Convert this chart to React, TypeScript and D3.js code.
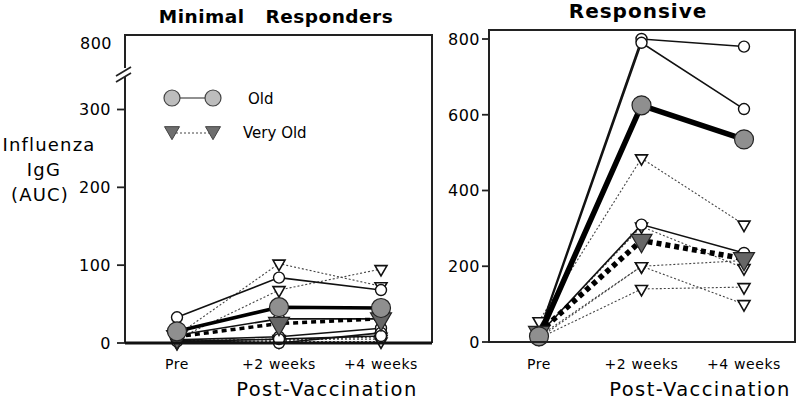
import React from "react";
import * as d3 from "d3";

const categories = ["Pre", "+2 weeks", "+4 weeks"];

// Minimal responders
const minimalOld = [
  [33, 84, 68],
  [10, 31, 31],
  [4, 8, 19],
  [3, 0, 13],
  [2, 5, 9],
];
const minimalOldMean = [15, 46, 45];
const minimalVeryOld = [
  [10, 102, 73],
  [5, 68, 95],
  [3, 5, 5],
  [1, 3, 8],
  [0, 2, 2],
];
const minimalVeryOldMean = [8, 25, 31];

// Responsive
const respOld = [
  [25, 800, 780],
  [20, 790, 615],
  [20, 310, 235],
];
const respOldMean = [15, 625, 535];
const respVeryOld = [
  [55, 485, 310],
  [20, 305, 195],
  [15, 200, 215],
  [10, 200, 100],
  [10, 140, 145],
];
const respVeryOldMean = [25, 268, 220];

const leftTicks = [0, 100, 200, 300, 800];
const rightTicks = [0, 200, 400, 600, 800];

const FONT = "DejaVu Sans, Verdana, sans-serif";

type Sc = (v: number) => number;

function tri(cx: number, cy: number, w: number) {
  const h = w * 0.87;
  return `M${cx - w / 2},${cy - h / 3}L${cx + w / 2},${cy - h / 3}L${cx},${cy + (2 * h) / 3}Z`;
}

function Panel(props: {
  x: d3.ScalePoint<string>;
  y: Sc;
  old: number[][];
  oldMean: number[];
  vold: number[][];
  voldMean: number[];
  meanW: number;
}) {
  const { x, y, old, oldMean, vold, voldMean, meanW } = props;
  const line = d3
    .line<number>()
    .x((_, i) => x(categories[i]) as number)
    .y((d) => y(d));
  return (
    <g>
      {vold.map((s, i) => (
        <path key={"vl" + i} d={line(s) || ""} fill="none" stroke="#444" strokeWidth={1.1} strokeDasharray="2,2" />
      ))}
      {old.map((s, i) => (
        <path key={"ol" + i} d={line(s) || ""} fill="none" stroke="#111" strokeWidth={1.6} />
      ))}
      {vold.map((s, i) =>
        s.map((v, j) => (
          <path key={"vm" + i + j} d={tri(x(categories[j]) as number, y(v), 12)} fill="#fff" stroke="#111" strokeWidth={1.6} />
        ))
      )}
      {old.map((s, i) =>
        s.map((v, j) => (
          <circle key={"om" + i + j} cx={x(categories[j]) as number} cy={y(v)} r={5.5} fill="#fff" stroke="#111" strokeWidth={1.4} />
        ))
      )}
      <path d={line(oldMean) || ""} fill="none" stroke="#000" strokeWidth={meanW} />
      <path d={line(voldMean) || ""} fill="none" stroke="#000" strokeWidth={meanW} strokeDasharray="5,4" />
      {voldMean.map((v, j) => (
        <path key={"vmm" + j} d={tri(x(categories[j]) as number, y(v), 21)} fill="#666" stroke="#222" strokeWidth={1.2} />
      ))}
      {oldMean.map((v, j) => (
        <circle key={"omm" + j} cx={x(categories[j]) as number} cy={y(v)} r={9.5} fill="#8f8f8f" stroke="#222" strokeWidth={1.2} />
      ))}
    </g>
  );
}

export default function App() {
  const L = { l: 125, r: 432, t: 35, b: 343 };
  const R = { l: 489, r: 795, t: 30, b: 342 };

  const xL = d3.scalePoint<string>().domain(categories).range([177, 381]);
  const yL = d3.scaleLinear().domain([0, 300, 800]).range([343, 109.5, 43]);
  const xR = d3.scalePoint<string>().domain(categories).range([539, 744]);
  const yR = d3.scaleLinear().domain([0, 800]).range([342, 39]);

  return (
    <svg
      width={796}
      height={400}
      style={{ position: "absolute", left: 0, top: 0, background: "#fff" }}
      fontFamily={FONT}
    >
      <rect width={796} height={400} fill="#fff" />
      {/* Titles */}
      <text x={276} y={23} textAnchor="middle" fontSize={18.5} fontWeight="bold" letterSpacing={0.5} style={{ whiteSpace: "pre" }}>
        {"Minimal   Responders"}
      </text>
      <text x={638} y={18} textAnchor="middle" fontSize={20} fontWeight="bold" letterSpacing={1}>
        Responsive
      </text>

      {/* Y label */}
      <g fontSize={18} letterSpacing={1.2} textAnchor="middle">
        <text x={49} y={151}>Influenza</text>
        <text x={44} y={176}>IgG</text>
        <text x={40} y={201}>(AUC)</text>
      </g>

      {/* Left panel data */}
      <Panel x={xL} y={yL} old={minimalOld} oldMean={minimalOldMean} vold={minimalVeryOld} voldMean={minimalVeryOldMean} meanW={3.5} />

      {/* Left frame */}
      <path d={`M${L.l},${L.b}V${L.t}H${L.r}V${L.b}`} fill="none" stroke="#222" strokeWidth={2} />
      <line x1={L.l} x2={L.r} y1={L.b} y2={L.b} stroke="#111" strokeWidth={3} />
      {/* axis break */}
      <rect x={L.l - 3} y={68} width={6} height={9} fill="#fff" />
      <line x1={L.l - 9} y1={76} x2={L.l + 6} y2={67} stroke="#222" strokeWidth={1.8} />
      <line x1={L.l - 9} y1={82} x2={L.l + 6} y2={73} stroke="#222" strokeWidth={1.8} />
      <g fontSize={16} textAnchor="end">
        {leftTicks.map((t) => (
          <g key={"lt" + t}>
            {t <= 300 && <line x1={L.l - 8} x2={L.l} y1={yL(t)} y2={yL(t)} stroke="#222" strokeWidth={1.8} />}
            <text x={L.l - (t === 800 ? 13 : 14)} y={yL(t)} dy="0.36em" letterSpacing={0.5}>
              {t}
            </text>
          </g>
        ))}
      </g>
      <g fontSize={14} textAnchor="middle" letterSpacing={0.6}>
        {categories.map((c) => (
          <text key={"lc" + c} x={xL(c) as number} y={369}>
            {c}
          </text>
        ))}
      </g>
      <text x={327} y={396} textAnchor="middle" fontSize={19.5} letterSpacing={1.4}>
        Post-Vaccination
      </text>

      {/* Legend */}
      <line x1={173} x2={212} y1={98} y2={98} stroke="#222" strokeWidth={1.2} />
      <circle cx={172} cy={98} r={8} fill="#bdbdbd" stroke="#444" strokeWidth={1.2} />
      <circle cx={213} cy={98} r={8} fill="#bdbdbd" stroke="#444" strokeWidth={1.2} />
      <text x={248} y={104} fontSize={15}>Old</text>
      <line x1={172} x2={213} y1={133} y2={133} stroke="#444" strokeWidth={1} strokeDasharray="2,2" />
      <path d={tri(172, 131, 15)} fill="#6e6e6e" stroke="#444" strokeWidth={1} />
      <path d={tri(213, 131, 15)} fill="#6e6e6e" stroke="#444" strokeWidth={1} />
      <text x={243} y={138} fontSize={15}>Very Old</text>

      {/* Right panel data */}
      <Panel x={xR} y={yR} old={respOld} oldMean={respOldMean} vold={respVeryOld} voldMean={respVeryOldMean} meanW={5.5} />

      {/* Right frame */}
      <rect x={R.l} y={R.t} width={R.r - R.l} height={R.b - R.t} fill="none" stroke="#222" strokeWidth={2} />
      <g fontSize={16} textAnchor="end">
        {rightTicks.map((t) => (
          <g key={"rt" + t}>
            <line x1={R.l - 7} x2={R.l} y1={yR(t)} y2={yR(t)} stroke="#222" strokeWidth={1.8} />
            <text x={R.l - 9} y={yR(t)} dy="0.36em" letterSpacing={0.5}>
              {t}
            </text>
          </g>
        ))}
      </g>
      <g fontSize={14} textAnchor="middle" letterSpacing={0.6}>
        {categories.map((c) => (
          <text key={"rc" + c} x={xR(c) as number} y={369}>
            {c}
          </text>
        ))}
      </g>
      <text x={700} y={396} textAnchor="middle" fontSize={19.5} letterSpacing={1.4}>
        Post-Vaccination
      </text>
    </svg>
  );
}
